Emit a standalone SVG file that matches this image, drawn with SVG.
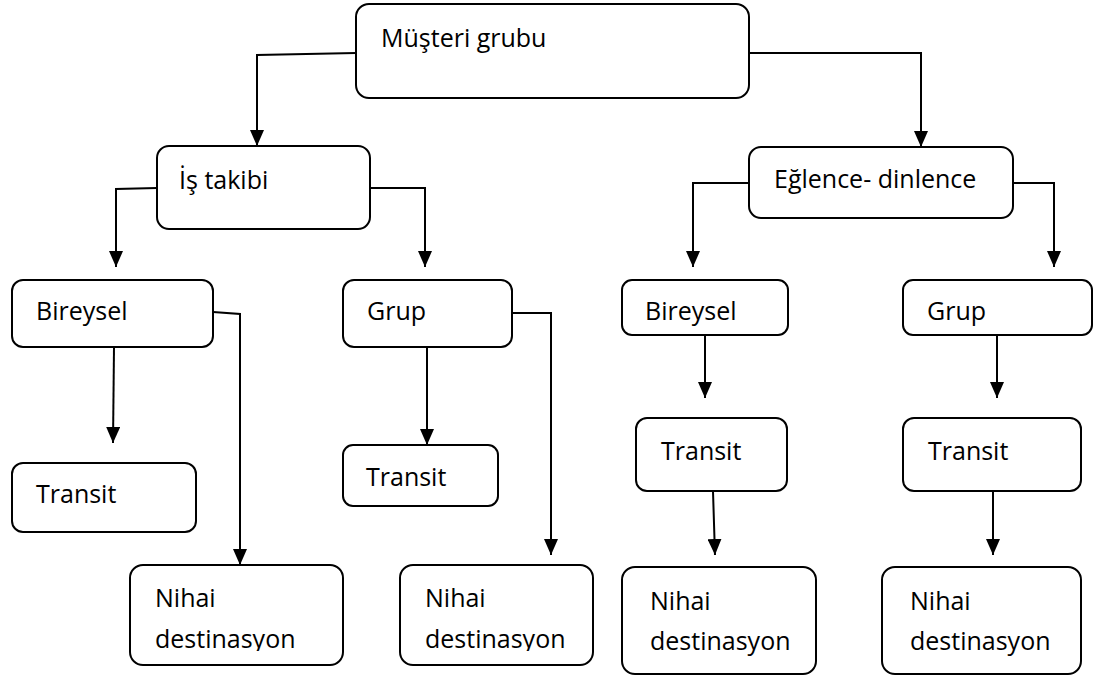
<svg xmlns="http://www.w3.org/2000/svg" width="1103" height="677" viewBox="0 0 1103 677">
  <style>
    .box { fill: #ffffff; stroke: #000000; stroke-width: 2; }
    .lbl { font-family: "Open Sans", "Liberation Sans", sans-serif; font-size: 25px; fill: #000000; }
    .conn { fill: none; stroke: #000000; stroke-width: 2; marker-end: url(#arrow); }
  </style>
  <defs>
    <marker id="arrow" viewBox="0 0 16 14" refX="16" refY="7" markerWidth="16" markerHeight="14" markerUnits="userSpaceOnUse" orient="auto">
      <path d="M0,0 L16,7 L0,14 Z" fill="#000000"/>
    </marker>
    <clipPath id="clipN1"><rect x="130" y="565" width="213" height="86"/></clipPath>
    <clipPath id="clipN2"><rect x="400" y="565" width="193" height="86"/></clipPath>
  </defs>
  <rect width="1103" height="677" fill="#ffffff"/>

  <g id="connectors">
    <path class="conn" d="M356,53 L257,55 L257,146"/>
    <path class="conn" d="M749,53 L921,53 L921,147"/>
    <path class="conn" d="M157,188 L116,189 L116,267"/>
    <path class="conn" d="M370,188 L425,188 L425,267"/>
    <path class="conn" d="M749,183 L693,183 L693,267"/>
    <path class="conn" d="M1013,183 L1054,183 L1054,267"/>
    <path class="conn" d="M114,347 L113,443"/>
    <path class="conn" d="M213,312 L240,314 L240,565"/>
    <path class="conn" d="M427,347 L427,445"/>
    <path class="conn" d="M512,313 L551,313 L551,555"/>
    <path class="conn" d="M705,335 L705,398"/>
    <path class="conn" d="M713,491 L715,555"/>
    <path class="conn" d="M997,335 L997,398"/>
    <path class="conn" d="M993,491 L993,555"/>
  </g>

  <g id="node-musteri-grubu">
    <rect class="box" x="356" y="4" width="393" height="94" rx="13"/>
    <text class="lbl" x="381" y="47">Müşteri grubu</text>
  </g>
  <g id="node-is-takibi">
    <rect class="box" x="157" y="146" width="213" height="83" rx="12"/>
    <text class="lbl" x="179" y="189">İş takibi</text>
  </g>
  <g id="node-eglence-dinlence">
    <rect class="box" x="749" y="147" width="264" height="71" rx="12"/>
    <text class="lbl" x="774" y="188">Eğlence- dinlence</text>
  </g>
  <g id="node-bireysel-1">
    <rect class="box" x="12" y="280" width="201" height="67" rx="11"/>
    <text class="lbl" x="36" y="320">Bireysel</text>
  </g>
  <g id="node-grup-1">
    <rect class="box" x="343" y="280" width="169" height="67" rx="11"/>
    <text class="lbl" x="367" y="320">Grup</text>
  </g>
  <g id="node-bireysel-2">
    <rect class="box" x="622" y="280" width="166" height="55" rx="10"/>
    <text class="lbl" x="645" y="320">Bireysel</text>
  </g>
  <g id="node-grup-2">
    <rect class="box" x="903" y="280" width="189" height="55" rx="10"/>
    <text class="lbl" x="927" y="320">Grup</text>
  </g>
  <g id="node-transit-1">
    <rect class="box" x="12" y="463" width="184" height="69" rx="11"/>
    <text class="lbl" x="36" y="503">Transit</text>
  </g>
  <g id="node-transit-2">
    <rect class="box" x="343" y="445" width="155" height="61" rx="10"/>
    <text class="lbl" x="366" y="486">Transit</text>
  </g>
  <g id="node-transit-3">
    <rect class="box" x="636" y="418" width="151" height="73" rx="11"/>
    <text class="lbl" x="661" y="460">Transit</text>
  </g>
  <g id="node-transit-4">
    <rect class="box" x="903" y="418" width="178" height="73" rx="11"/>
    <text class="lbl" x="928" y="460">Transit</text>
  </g>
  <g id="node-nihai-1">
    <rect class="box" x="130" y="565" width="213" height="100" rx="13"/>
    <g clip-path="url(#clipN1)">
      <text class="lbl" x="155" y="607">Nihai</text>
      <text class="lbl" x="155" y="648">destinasyon</text>
    </g>
  </g>
  <g id="node-nihai-2">
    <rect class="box" x="400" y="565" width="193" height="100" rx="13"/>
    <g clip-path="url(#clipN2)">
      <text class="lbl" x="425" y="607">Nihai</text>
      <text class="lbl" x="425" y="648">destinasyon</text>
    </g>
  </g>
  <g id="node-nihai-3">
    <rect class="box" x="622" y="567" width="194" height="107" rx="13"/>
    <text class="lbl" x="650" y="610">Nihai</text>
    <text class="lbl" x="650" y="650">destinasyon</text>
  </g>
  <g id="node-nihai-4">
    <rect class="box" x="882" y="567" width="199" height="107" rx="13"/>
    <text class="lbl" x="910" y="610">Nihai</text>
    <text class="lbl" x="910" y="650">destinasyon</text>
  </g>
</svg>
